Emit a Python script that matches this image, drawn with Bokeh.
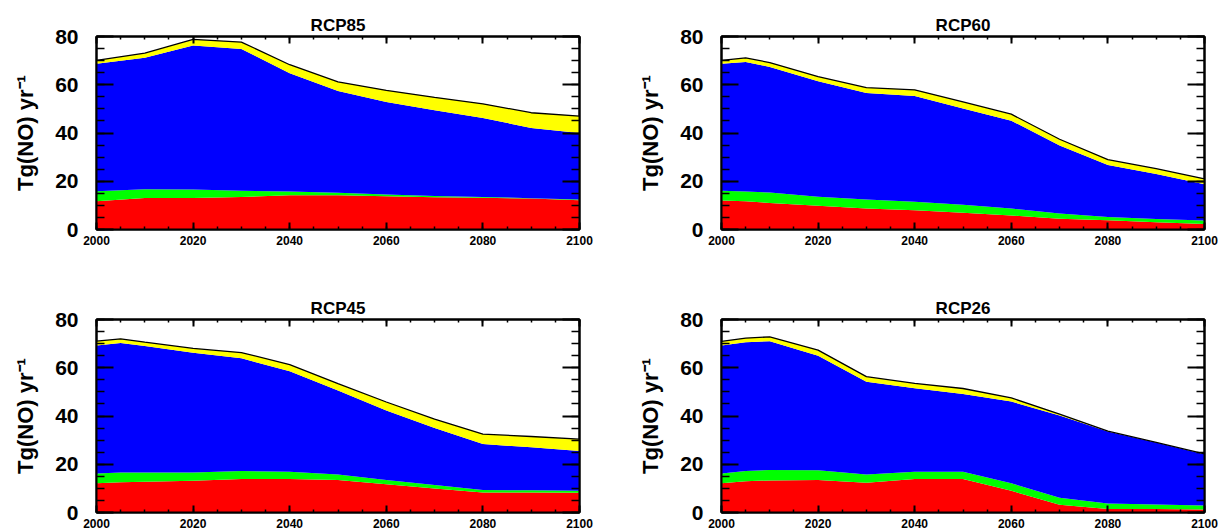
from bokeh.plotting import figure
from bokeh.models import Range1d, LinearAxis, SingleIntervalTicker, ColumnDataSource, CustomJSTickFormatter
from bokeh.layouts import column, row
from bokeh.embed import file_html
from bokeh.resources import INLINE

# ---------------- data (Tg(NO) yr^-1) ----------------
years_85 = [2000, 2010, 2020, 2030, 2040, 2050, 2060, 2070, 2080, 2090, 2100]
red_85 = [11.7, 13.1, 13.1, 13.5, 14.2, 14.2, 13.8, 13.4, 13.2, 12.8, 12.1]
green_85 = [4.2, 3.6, 3.5, 2.6, 1.5, 1.0, 0.7, 0.5, 0.3, 0.2, 0.3]
blue_85 = [52.8, 54.5, 59.7, 58.7, 49.1, 42.2, 38.3, 35.5, 32.7, 29.1, 27.6]
yellow_85 = [1.4, 1.9, 2.5, 2.9, 3.5, 3.8, 4.9, 5.4, 5.9, 6.3, 7.0]

years_60 = [2000, 2005, 2010, 2020, 2030, 2040, 2050, 2060, 2070, 2080, 2090, 2100]
red_60 = [12.0, 11.7, 11.0, 9.8, 8.7, 8.0, 6.9, 5.8, 4.5, 3.8, 3.0, 2.3]
green_60 = [4.1, 4.1, 4.3, 3.8, 3.7, 3.5, 3.4, 2.9, 2.1, 1.4, 1.4, 1.4]
blue_60 = [52.6, 53.6, 52.1, 47.8, 44.2, 43.8, 39.9, 36.4, 28.2, 21.5, 18.6, 15.1]
yellow_60 = [1.4, 1.7, 1.8, 2.0, 2.2, 2.6, 2.7, 2.7, 2.6, 2.3, 2.2, 2.2]

years_45 = [2000, 2005, 2010, 2020, 2030, 2040, 2050, 2060, 2070, 2080, 2090, 2100]
red_45 = [12.1, 12.5, 12.7, 13.2, 13.9, 13.9, 13.5, 11.7, 10.0, 8.3, 8.3, 8.2]
green_45 = [4.1, 4.1, 3.9, 3.4, 3.3, 3.0, 2.3, 1.8, 1.4, 1.0, 0.9, 0.8]
blue_45 = [53.0, 53.7, 52.4, 49.6, 46.7, 41.6, 34.8, 28.8, 23.6, 19.1, 17.8, 16.5]
yellow_45 = [1.8, 1.7, 1.6, 1.8, 2.4, 2.8, 2.8, 3.5, 3.7, 4.1, 4.5, 4.9]

years_26 = [2000, 2005, 2010, 2020, 2030, 2040, 2050, 2060, 2070, 2080, 2090, 2100]
red_26 = [12.1, 13.0, 13.3, 13.5, 12.3, 13.9, 13.9, 9.0, 3.2, 1.5, 1.4, 1.2]
green_26 = [4.1, 4.2, 4.3, 4.0, 3.5, 3.0, 3.0, 3.1, 2.9, 2.2, 1.9, 1.7]
blue_26 = [53.0, 53.4, 53.4, 47.5, 38.4, 34.6, 32.2, 33.9, 34.1, 29.9, 25.7, 21.2]
yellow_26 = [1.7, 1.7, 1.8, 2.3, 2.1, 2.0, 2.3, 1.5, 0.6, 0.1, 0.1, 0.2]

FONT = "Liberation Sans"
COLORS = ["#ff0000", "#00ff00", "#0000ff", "#ffff00"]


def style_axis(ax, is_x, show_labels):
    ax.ticker = SingleIntervalTicker(interval=20, num_minor_ticks=4)
    ax.axis_line_width = 2
    ax.axis_line_color = "black"
    ax.major_tick_line_color = "black"
    ax.minor_tick_line_color = "black"
    ax.major_tick_out = 0
    ax.minor_tick_out = 0
    ax.major_tick_line_width = 2
    ax.minor_tick_line_width = 1.5
    if is_x:
        ax.major_tick_in = 7
        ax.minor_tick_in = 3
    else:
        ax.major_tick_in = 17
        ax.minor_tick_in = 8
    if not show_labels:
        ax.formatter = CustomJSTickFormatter(code="return ''")
        ax.major_label_standoff = 0


def make_panel(title, years, red, green, blue, yellow, width, height, bl, br, bt, bb):
    p = figure(width=width, height=height, output_backend="svg", toolbar_location=None,
               x_range=Range1d(2000, 2100), y_range=Range1d(0, 80),
               min_border_left=bl, min_border_right=br, min_border_top=bt, min_border_bottom=bb)
    p.grid.visible = False
    p.outline_line_color = "black"
    p.outline_line_width = 2
    p.background_fill_color = "white"
    p.border_fill_color = "white"

    total = [r + g + b + y for r, g, b, y in zip(red, green, blue, yellow)]
    src = ColumnDataSource(dict(year=years, red=red, green=green, blue=blue,
                                yellow=yellow, total=total))
    p.varea_stack(["red", "green", "blue", "yellow"], x="year", color=COLORS, source=src)
    p.line("year", "total", source=src, line_color="black", line_width=1.3)

    # bottom axis
    xa = p.xaxis[0]
    style_axis(xa, True, True)
    xa.major_label_text_font = FONT
    xa.major_label_text_font_style = "bold"
    xa.major_label_text_font_size = "12px"
    xa.major_label_text_color = "black"
    xa.major_label_standoff = 6
    # left axis
    ya = p.yaxis[0]
    style_axis(ya, False, True)
    ya.major_label_text_font = FONT
    ya.major_label_text_font_style = "bold"
    ya.major_label_text_font_size = "21px"
    ya.major_label_text_color = "black"
    ya.major_label_standoff = 18
    ya.axis_label = "Tg(NO) yr\u207b\u00b9"
    ya.axis_label_text_font = FONT
    ya.axis_label_text_font_style = "bold"
    ya.axis_label_text_font_size = "22px"
    ya.axis_label_text_color = "black"
    ya.axis_label_standoff = 14

    top = LinearAxis()
    style_axis(top, True, False)
    p.add_layout(top, "above")
    right = LinearAxis()
    style_axis(right, False, False)
    p.add_layout(right, "right")

    p.title.text = title
    p.title.align = "center"
    p.title.text_font = FONT
    p.title.text_font_style = "bold"
    p.title.text_font_size = "17px"
    p.title.text_color = "black"
    p.title.standoff = 3
    return p


p1 = make_panel("RCP85", years_85, red_85, green_85, blue_85, yellow_85, 609, 265, 96, 30, 36, 36)
p2 = make_panel("RCP60", years_60, red_60, green_60, blue_60, yellow_60, 609, 265, 112, 14, 36, 36)
p3 = make_panel("RCP45", years_45, red_45, green_45, blue_45, yellow_45, 609, 266, 96, 30, 54, 19)
p4 = make_panel("RCP26", years_26, red_26, green_26, blue_26, yellow_26, 609, 266, 112, 14, 54, 19)

layout = column(row(p1, p2), row(p3, p4))
open("out.html", "w").write(file_html(layout, INLINE))
